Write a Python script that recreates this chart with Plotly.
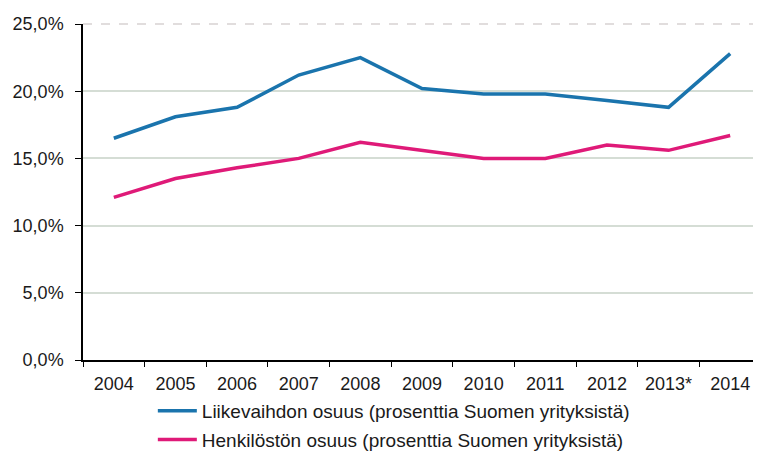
import plotly.graph_objects as go

years = ["2004", "2005", "2006", "2007", "2008", "2009",
         "2010", "2011", "2012", "2013*", "2014"]

# Liikevaihdon osuus, %
turnover = [16.5, 18.1, 18.8, 21.2, 22.5, 20.2, 19.8, 19.8, 19.3, 18.8, 22.8]
# Henkilöstön osuus, %
staff = [12.1, 13.5, 14.3, 15.0, 16.2, 15.6, 15.0, 15.0, 16.0, 15.6, 16.7]

names = ["Liikevaihdon osuus (prosenttia Suomen yrityksistä)",
         "Henkilöstön osuus (prosenttia Suomen yrityksistä)"]

blue = "#1a74ad"
pink = "#df1a78"
font = "Liberation Sans, Arial, sans-serif"

fig = go.Figure()
fig.add_trace(go.Scatter(x=years, y=turnover, mode="lines", name=names[0],
                         legendgroup="a",
                         line=dict(color=blue, width=3.5)))
fig.add_trace(go.Scatter(x=years, y=staff, mode="lines", name=names[1],
                         legendgroup="b",
                         line=dict(color=pink, width=3.5)))

# page body has an 8px margin, so the figure is sized to fit the window
fig.update_layout(
    width=753, height=451,
    margin=dict(l=75, r=0, t=16, b=99, autoexpand=False),
    paper_bgcolor="white", plot_bgcolor="white",
    separators=", ",
    font=dict(family=font, size=18, color="#1a1a1a"),
    showlegend=True,
    legend=dict(orientation="v", x=0.103, xanchor="left",
                y=-0.095, yanchor="top", itemwidth=39,
                tracegroupgap=1, font=dict(size=19),
                bgcolor="rgba(0,0,0,0)"),
)

fig.update_xaxes(type="category", range=[-0.5, 10.5], automargin=False,
                 showline=True, linecolor="black", linewidth=1.5,
                 ticks="outside", tickson="boundaries", ticklen=5,
                 tickcolor="black", showgrid=False, ticklabelstandoff=7)
fig.update_yaxes(range=[0, 25], dtick=5, tickformat=".1f", ticksuffix="%",
                 automargin=False,
                 showline=True, linecolor="black", linewidth=1.5,
                 ticks="outside", ticklen=6, tickcolor="black",
                 ticklabelstandoff=8,
                 gridcolor="#d5ddd5", gridwidth=1.5, zeroline=False)

# dashed top border of the plot area
fig.add_shape(type="line", xref="paper", yref="paper", x0=0, x1=1, y0=1, y1=1,
              line=dict(color="#d8d2d2", width=1.5, dash="dash"))

fig.write_html("out.html")
